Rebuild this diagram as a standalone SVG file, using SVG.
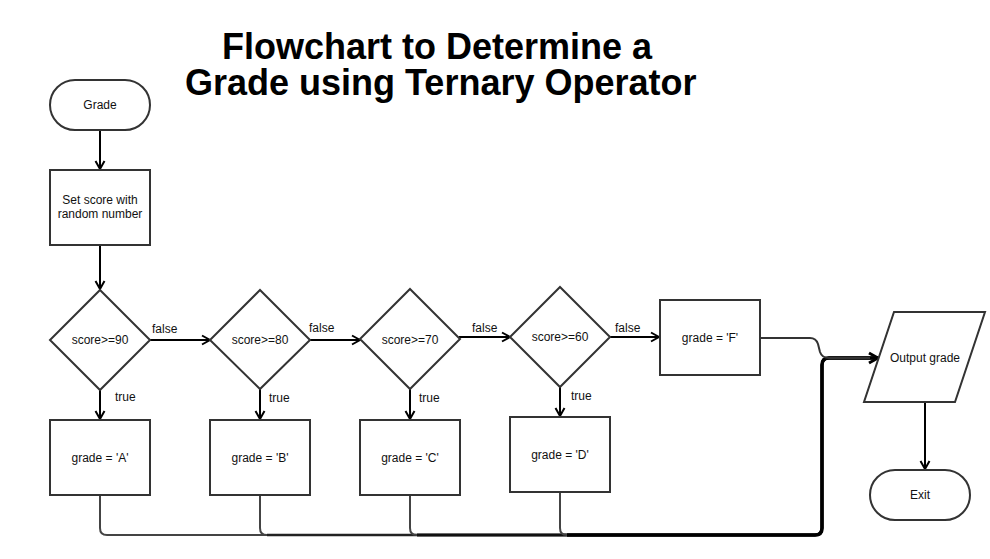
<svg xmlns="http://www.w3.org/2000/svg" width="990" height="559" viewBox="0 0 990 559">
<style>
.shape{fill:#fff;stroke:#333;stroke-width:2}
.lbl{font-family:"Liberation Sans",Arial,sans-serif;font-size:12px;fill:#111;text-anchor:middle}
.el{font-family:"Liberation Sans",Arial,sans-serif;font-size:12px;fill:#111}
.title{font-family:"Liberation Sans",Arial,sans-serif;font-size:36px;font-weight:bold;fill:#000}
.edge{fill:none;stroke:#000;stroke-width:2}
.bus{fill:none;stroke-linejoin:round}
.drop{fill:none;stroke:#444;stroke-width:2}
</style>
<defs>
<marker id="arr" markerUnits="userSpaceOnUse" markerWidth="12" markerHeight="12" viewBox="0 0 12 12" refX="10" refY="6" orient="auto">
<path d="M2,1.5 L10,6 L2,10.5" fill="none" stroke="#000" stroke-width="2"/>
</marker>
<marker id="arrB" markerUnits="userSpaceOnUse" markerWidth="14" markerHeight="14" viewBox="0 0 14 14" refX="12" refY="7" orient="auto">
<path d="M3,2 L12,7 L3,12" fill="none" stroke="#000" stroke-width="3"/>
</marker>
</defs>
<rect width="990" height="559" fill="#fff"/>
<text class="title" x="222" y="59">Flowchart to Determine a</text>
<text class="title" x="185" y="95">Grade using Ternary Operator</text>

<g id="connectors">
<path class="edge" d="M100,130 V169" marker-end="url(#arr)"/>
<path class="edge" d="M100,245 V289" marker-end="url(#arr)"/>
<path class="edge" d="M150,340 H210" marker-end="url(#arr)"/>
<path class="edge" d="M310,340 H360" marker-end="url(#arr)"/>
<path class="edge" d="M459,337 H510" marker-end="url(#arr)"/>
<path class="edge" d="M610,337 H659" marker-end="url(#arr)"/>
<path class="edge" d="M100,390 V419" marker-end="url(#arr)"/>
<path class="edge" d="M260,389 V419" marker-end="url(#arr)"/>
<path class="edge" d="M410,389 V419" marker-end="url(#arr)"/>
<path class="edge" d="M560,387 V416" marker-end="url(#arr)"/>
<path class="edge" d="M925,402 V469" marker-end="url(#arr)"/>
<path class="bus" stroke="#444" stroke-width="2" d="M100,495 V528 Q100,535 107,535 H815 Q822,535 822,528 V365 Q822,358 829,358 H878" marker-end="url(#arrB)"/>
<path class="bus" stroke="#222" stroke-width="2.5" d="M267,535 H815 Q822,535 822,528 V365 Q822,358 829,358 H878"/>
<path class="bus" stroke="#111" stroke-width="3" d="M417,535 H815 Q822,535 822,528 V365 Q822,358 829,358 H878"/>
<path class="bus" stroke="#000" stroke-width="3.5" d="M567,535 H815 Q822,535 822,528 V365 Q822,358 829,358 H878"/>
<path class="drop" d="M260,495 V528 Q260,535 267,535"/>
<path class="drop" d="M410,495 V528 Q410,535 417,535"/>
<path class="drop" d="M560,492 V528 Q560,535 567,535"/>
<path class="bus" stroke="#333" stroke-width="2" d="M760,338 H810 Q816,338 818,344 L820,352 Q822,358 829,358 H870"/>
<text class="el" x="152" y="333">false</text>
<text class="el" x="309" y="332">false</text>
<text class="el" x="472" y="332">false</text>
<text class="el" x="615" y="332">false</text>
<text class="el" x="115" y="401">true</text>
<text class="el" x="269" y="402">true</text>
<text class="el" x="419" y="402">true</text>
<text class="el" x="571" y="400">true</text>
</g>

<g id="start">
<rect class="shape" x="50" y="80" width="100" height="50" rx="25"/>
<text class="lbl" x="100" y="109">Grade</text>
</g>
<g id="setScore">
<rect class="shape" x="50" y="170" width="100" height="75"/>
<text class="lbl" x="100" y="204">Set score with</text>
<text class="lbl" x="100" y="218">random number</text>
</g>
<g id="d90">
<polygon class="shape" points="100,290 150,340 100,390 50,340"/>
<text class="lbl" x="100" y="344">score&gt;=90</text>
</g>
<g id="d80">
<polygon class="shape" points="260,290 310,340 260,389 210,340"/>
<text class="lbl" x="260" y="344">score&gt;=80</text>
</g>
<g id="d70">
<polygon class="shape" points="410,289 460,339 410,389 360,339"/>
<text class="lbl" x="410" y="344">score&gt;=70</text>
</g>
<g id="d60">
<polygon class="shape" points="560,287 610,337 560,387 510,337"/>
<text class="lbl" x="560" y="341">score&gt;=60</text>
</g>
<g id="gradeA">
<rect class="shape" x="50" y="420" width="100" height="75"/>
<text class="lbl" x="100" y="462">grade = 'A'</text>
</g>
<g id="gradeB">
<rect class="shape" x="210" y="420" width="100" height="75"/>
<text class="lbl" x="260" y="462">grade = 'B'</text>
</g>
<g id="gradeC">
<rect class="shape" x="360" y="420" width="100" height="75"/>
<text class="lbl" x="410" y="462">grade = 'C'</text>
</g>
<g id="gradeD">
<rect class="shape" x="510" y="417" width="100" height="75"/>
<text class="lbl" x="560" y="459">grade = 'D'</text>
</g>
<g id="gradeF">
<rect class="shape" x="660" y="300" width="100" height="75"/>
<text class="lbl" x="710" y="342">grade = 'F'</text>
</g>
<g id="output">
<polygon class="shape" points="894,312 985,312 955,402 864,402"/>
<text class="lbl" x="925" y="362">Output grade</text>
</g>
<g id="exit">
<rect class="shape" x="870" y="470" width="100" height="50" rx="25"/>
<text class="lbl" x="920" y="499">Exit</text>
</g>
</svg>
